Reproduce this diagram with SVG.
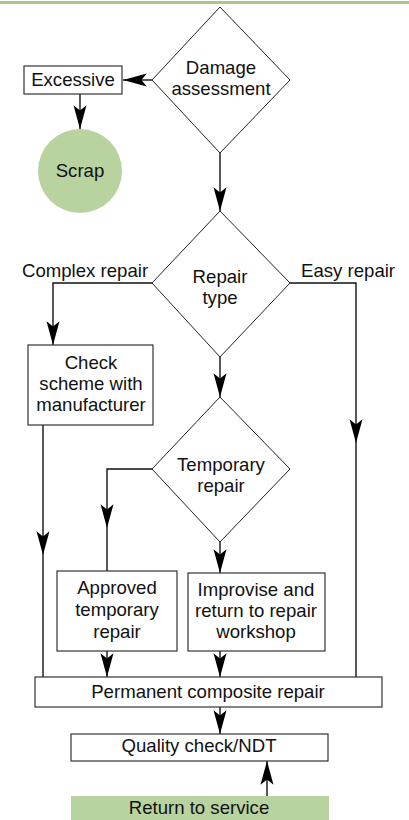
<svg xmlns="http://www.w3.org/2000/svg" width="409" height="820" viewBox="0 0 409 820">
<defs>
<style>
.t{font-family:"Liberation Sans",Arial,sans-serif;font-size:18.6px;fill:#111;text-anchor:middle}
.tl{font-family:"Liberation Sans",Arial,sans-serif;font-size:18.6px;fill:#111}
.box{fill:#fff;stroke:#333;stroke-width:1.2}
.dia{fill:#fff;stroke:#222;stroke-width:1}
.green{fill:#b9d3a0;stroke:none}
.c{fill:none;stroke:#111;stroke-width:1.4}
</style>
<marker id="ah" markerUnits="userSpaceOnUse" markerWidth="26" markerHeight="16" viewBox="-23 -7 24 14" refX="0" refY="0" orient="auto">
<path d="M0,0 L-22,-6 L-17,0 L-22,6 Z" fill="#000"/>
</marker>
</defs>
<rect x="0" y="1" width="409" height="3" fill="#a8c88a"/>

<g id="connectors">
<path class="c" d="M152,80 H123" marker-end="url(#ah)"/>
<path class="c" d="M80,94 V129" marker-end="url(#ah)"/>
<path class="c" d="M220,153 V211" marker-end="url(#ah)"/>
<path class="c" d="M152,283 H53 V345" marker-end="url(#ah)"/>
<path class="c" d="M290,283 H356 V443" marker-end="url(#ah)"/>
<path class="c" d="M356,443 V677"/>
<path class="c" d="M220,357 V397" marker-end="url(#ah)"/>
<path class="c" d="M43,425 V555" marker-end="url(#ah)"/>
<path class="c" d="M43,555 V677"/>
<path class="c" d="M152,469 H107 V528" marker-end="url(#ah)"/>
<path class="c" d="M107,528 V571"/>
<path class="c" d="M220,542 V573" marker-end="url(#ah)"/>
<path class="c" d="M107,651 V677" marker-end="url(#ah)"/>
<path class="c" d="M220,651 V677" marker-end="url(#ah)"/>
<path class="c" d="M220,707 V734" marker-end="url(#ah)"/>
<path class="c" d="M267,796 V761" marker-end="url(#ah)"/>
<text class="tl" x="22" y="277">Complex repair</text>
<text class="tl" x="301" y="277">Easy repair</text>
</g>

<g id="damage">
<polygon class="dia" points="220,7 290,80 220,153 152,80"/>
<text class="t" x="221" y="74">Damage</text>
<text class="t" x="221" y="95">assessment</text>
</g>

<g id="excessive">
<rect class="box" x="24" y="66" width="98" height="28"/>
<text class="t" x="73" y="86">Excessive</text>
</g>

<g id="scrap">
<circle class="green" cx="80" cy="171" r="42"/>
<text class="t" x="80" y="177">Scrap</text>
</g>

<g id="repairtype">
<polygon class="dia" points="220,211 290,283 220,357 152,283"/>
<text class="t" x="220" y="283">Repair</text>
<text class="t" x="220" y="304">type</text>
</g>

<g id="check">
<rect class="box" x="28" y="345" width="125" height="80"/>
<text class="t" x="91" y="369">Check</text>
<text class="t" x="91" y="390">scheme with</text>
<text class="t" x="91" y="411">manufacturer</text>
</g>

<g id="temporary">
<polygon class="dia" points="220,397 290,469 220,542 152,469"/>
<text class="t" x="221" y="471">Temporary</text>
<text class="t" x="221" y="492">repair</text>
</g>

<g id="approved">
<rect class="box" x="57" y="571" width="120" height="80"/>
<text class="t" x="117" y="594">Approved</text>
<text class="t" x="117" y="616">temporary</text>
<text class="t" x="117" y="638">repair</text>
</g>

<g id="improvise">
<rect class="box" x="188" y="573" width="137" height="78"/>
<text class="t" x="256" y="596">Improvise and</text>
<text class="t" x="256" y="617">return to repair</text>
<text class="t" x="256" y="638">workshop</text>
</g>

<g id="permanent">
<rect class="box" x="35" y="677" width="347" height="30"/>
<text class="t" x="208" y="698">Permanent composite repair</text>
</g>

<g id="quality">
<rect class="box" x="71" y="734" width="257" height="27"/>
<text class="t" x="199" y="752">Quality check/NDT</text>
</g>

<g id="return">
<rect class="green" x="71" y="796" width="258" height="24"/>
<text class="t" x="199" y="814">Return to service</text>
</g>
</svg>
